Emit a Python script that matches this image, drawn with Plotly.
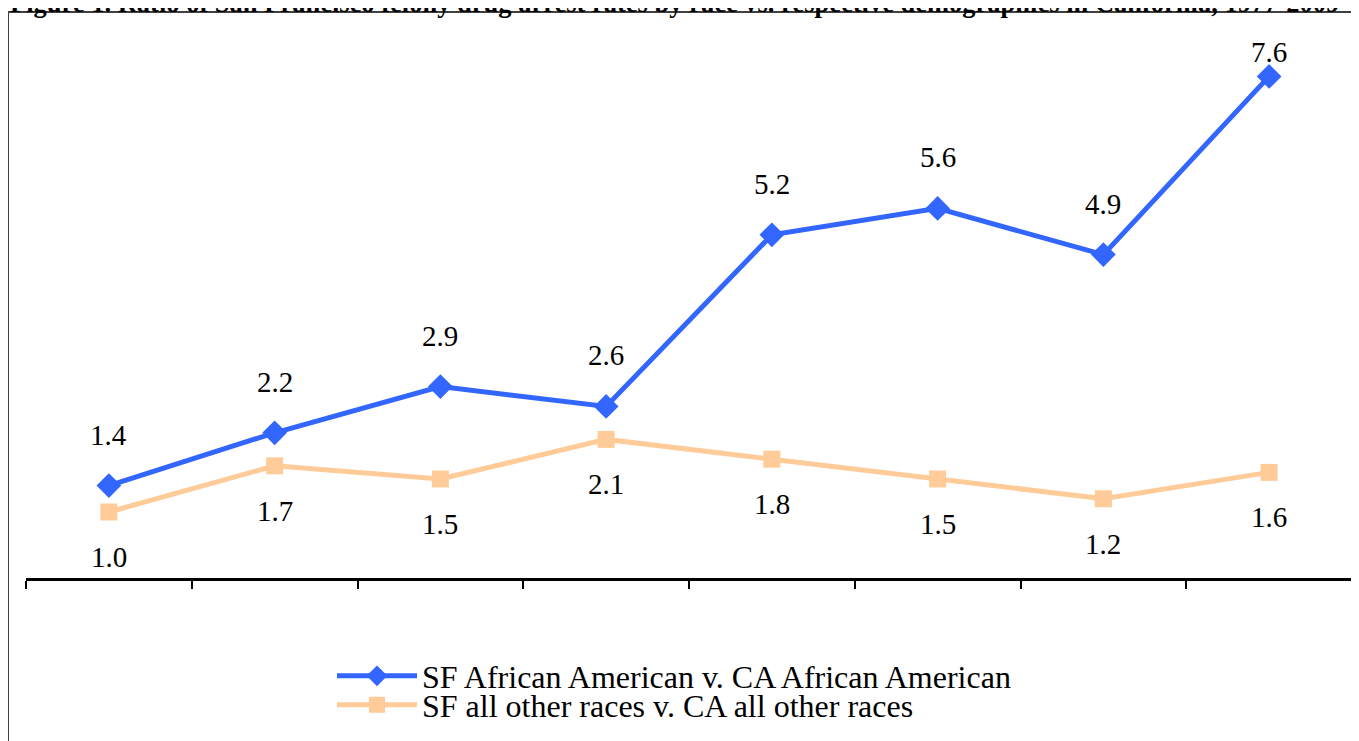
import plotly.graph_objects as go

# Data (8 periods, 1977-2009; x labels not shown in the reference)
periods = list(range(8))
african_american = [1.4, 2.2, 2.9, 2.6, 5.2, 5.6, 4.9, 7.6]
all_other = [1.0, 1.7, 1.5, 2.1, 1.8, 1.5, 1.2, 1.6]
name_aa = "SF African American v. CA African American"
name_other = "SF all other races v. CA all other races"
title_text = ("Figure 1. Ratio of San Francisco felony drug arrest rates by race vs. "
              "respective demographics in California, 1977-2009")

BLUE = "#3366FF"
PEACH = "#FFCC99"
FONT = "Liberation Serif, Times New Roman, serif"

W, H = 1359, 741
OFF = 8  # page offset of the figure in the browser
# plot area in page pixels: x 26..1352, y 50..578
ML = 26 - OFF
MR = W - (1352 - OFF)
MT = 50 - OFF
MB = H - (578 - OFF)
pw = W - ML - MR
ph = H - MT - MB


def px_x(page_x):
    return (page_x - OFF - ML) / pw


def px_y(page_y):
    return (H - MB - (page_y - OFF)) / ph


fig = go.Figure()
fig.add_trace(go.Scatter(
    x=periods, y=all_other, name=name_other, mode="lines+markers",
    line=dict(color=PEACH, width=5),
    marker=dict(symbol="square", size=17, color=PEACH),
    legend="legend2",
))
fig.add_trace(go.Scatter(
    x=periods, y=african_american, name=name_aa, mode="lines+markers",
    line=dict(color=BLUE, width=5),
    marker=dict(symbol="diamond", size=19, color=BLUE),
    legend="legend",
))

# data labels
aa_shift = [51, 51, 51, 51, 51, 51, 51, 24]
other_shift = [-45] * 8
for xi, v, s in zip(periods, african_american, aa_shift):
    fig.add_annotation(x=xi, y=v, text=f"{v:.1f}", showarrow=False, yshift=s,
                       font=dict(family=FONT, size=29, color="black"))
for xi, v, s in zip(periods, all_other, other_shift):
    fig.add_annotation(x=xi, y=v, text=f"{v:.1f}", showarrow=False, yshift=s,
                       font=dict(family=FONT, size=29, color="black"))

# title (partially cut at top, as in the reference)
fig.add_annotation(xref="paper", yref="paper", x=px_x(674), xanchor="center",
                   y=px_y(20), yanchor="bottom",
                   text=f"<b>{title_text}</b>", showarrow=False,
                   font=dict(family=FONT, size=26.5, color="black"))

# chart border
fig.add_shape(type="rect", xref="paper", yref="paper",
              x0=px_x(8), x1=px_x(1380),
              y0=px_y(770), y1=px_y(12),
              line=dict(color="#404040", width=2), layer="below")

fig.update_layout(
    width=W, height=H,
    margin=dict(l=ML, r=MR, t=MT, b=MB),
    paper_bgcolor="white", plot_bgcolor="white",
    showlegend=True,
    legend=dict(x=px_x(332), xanchor="left", y=px_y(676), yanchor="middle",
                font=dict(family=FONT, size=32, color="black"), itemwidth=80,
                bgcolor="rgba(0,0,0,0)"),
    legend2=dict(x=px_x(332), xanchor="left", y=px_y(705), yanchor="middle",
                 font=dict(family=FONT, size=32, color="black"), itemwidth=80,
                 bgcolor="rgba(0,0,0,0)"),
    xaxis=dict(range=[-0.5, 7.5], tickvals=[i - 0.5 for i in range(9)],
               showticklabels=False, ticks="outside", ticklen=8, tickwidth=2,
               tickcolor="black", showline=True, linecolor="black", linewidth=2.5,
               showgrid=False, zeroline=False, fixedrange=True),
    yaxis=dict(range=[0, 8], visible=False, showgrid=False, zeroline=False),
)

fig.write_html("out.html")
